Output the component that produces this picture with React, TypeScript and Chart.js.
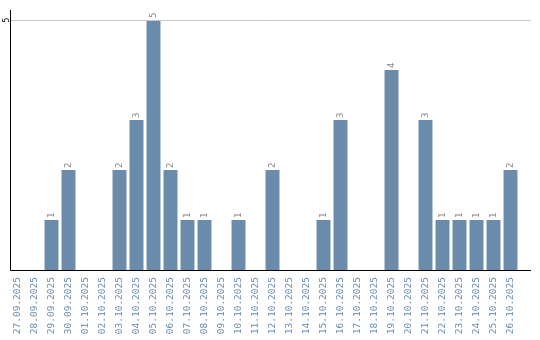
import React, { useEffect, useRef } from "react";
import { Chart, registerables } from "chart.js";

Chart.register(...registerables);

const categories: string[] = [
  "27.09.2025", "28.09.2025", "29.09.2025", "30.09.2025", "01.10.2025", "02.10.2025",
  "03.10.2025", "04.10.2025", "05.10.2025", "06.10.2025", "07.10.2025", "08.10.2025",
  "09.10.2025", "10.10.2025", "11.10.2025", "12.10.2025", "13.10.2025", "14.10.2025",
  "15.10.2025", "16.10.2025", "17.10.2025", "18.10.2025", "19.10.2025", "20.10.2025",
  "21.10.2025", "22.10.2025", "23.10.2025", "24.10.2025", "25.10.2025", "26.10.2025",
];

const counts: number[] = [
  0, 0, 1, 2, 0, 0,
  2, 3, 5, 2, 1, 1,
  0, 1, 0, 2, 0, 0,
  1, 3, 0, 0, 4, 0,
  3, 1, 1, 1, 1, 2,
];

const yTickValues: number[] = [5];

const BAR_COLOR = "#6a8baa";
const LABEL_COLOR = "#6a8caf";
const MONO = "'DejaVu Sans Mono', monospace";

const axesPlugin = {
  id: "customAxes",
  afterDatasetsDraw(chart: any) {
    const { ctx, chartArea, scales } = chart;
    const y = scales.y;
    ctx.save();
    // grid line at tick
    ctx.lineWidth = 1;
    ctx.strokeStyle = "#c8c8c8";
    yTickValues.forEach((v) => {
      const py = Math.round(y.getPixelForValue(v)) + 0.5;
      ctx.beginPath();
      ctx.moveTo(chartArea.left + 1.5, py);
      ctx.lineTo(chartArea.right + 12, py);
      ctx.stroke();
    });
    // axes
    ctx.strokeStyle = "#000";
    ctx.beginPath();
    ctx.moveTo(chartArea.left + 1.5, chartArea.top - 10);
    ctx.lineTo(chartArea.left + 1.5, chartArea.bottom + 0.5);
    ctx.lineTo(chartArea.right + 12, chartArea.bottom + 0.5);
    ctx.stroke();

    // value labels
    const meta = chart.getDatasetMeta(0);
    ctx.fillStyle = "#888";
    ctx.font = `9px ${MONO}`;
    ctx.textAlign = "left";
    ctx.textBaseline = "middle";
    meta.data.forEach((bar: any, i: number) => {
      const v = counts[i];
      if (!v) return;
      ctx.save();
      ctx.translate(bar.x, bar.y - 2);
      ctx.rotate(-Math.PI / 2);
      ctx.fillText(String(v), 0, 0);
      ctx.restore();
    });
    ctx.restore();
  },
};

export default function App() {
  const ref = useRef<HTMLCanvasElement>(null);
  useEffect(() => {
    if (!ref.current) return;
    const chart = new Chart(ref.current, {
      type: "bar",
      data: {
        labels: categories,
        datasets: [
          {
            data: counts,
            backgroundColor: BAR_COLOR,
            borderWidth: 0,
            categoryPercentage: 1,
            barPercentage: 0.82,
          },
        ],
      },
      options: {
        animation: false,
        responsive: false,
        layout: { padding: { left: 0, right: 21, top: 20, bottom: 0 } },
        plugins: { legend: { display: false }, tooltip: { enabled: false } },
        scales: {
          x: {
            grid: { display: false, drawTicks: false },
            border: { display: false },
            ticks: {
              autoSkip: false,
              minRotation: 90,
              maxRotation: 90,
              padding: 7,
              color: LABEL_COLOR,
              font: { family: MONO, size: 9.5 },
            },
            afterFit: (s: any) => {
              s.height = 70;
            },
          },
          y: {
            min: 0,
            max: 5,
            grid: { display: false, drawTicks: false },
            border: { display: false },
            afterBuildTicks: (s: any) => {
              s.ticks = yTickValues.map((v) => ({ value: v }));
            },
            ticks: {
              minRotation: 90,
              maxRotation: 90,
              padding: 0,
              crossAlign: "center",
              color: "#000",
              font: { family: MONO, size: 8 },
            },
            afterFit: (s: any) => {
              s.width = 9;
            },
          },
        },
      },
      plugins: [axesPlugin],
    });
    return () => chart.destroy();
  }, []);
  return (
    <div style={{ position: "fixed", left: 0, top: 0, width: 540, height: 340, background: "#fff" }}>
      <canvas ref={ref} width={540} height={340} style={{ display: "block" }} />
    </div>
  );
}
